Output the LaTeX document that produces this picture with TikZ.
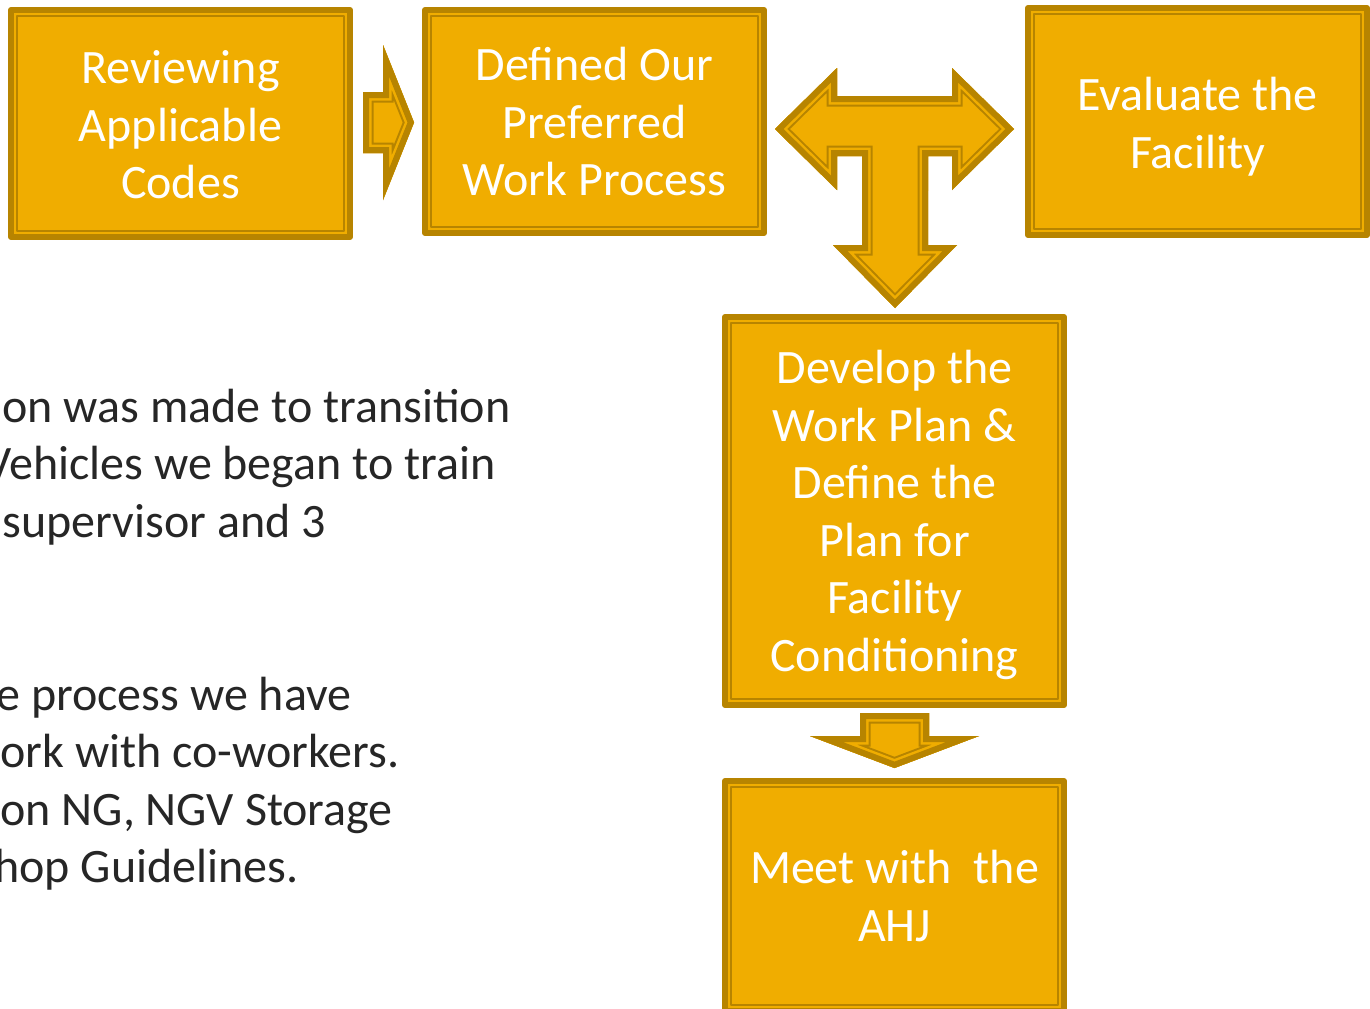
\documentclass[tikz,border=0pt]{standalone}
\usepackage{fontspec}
\setmainfont{Carlito}
\definecolor{gold}{RGB}{240,173,0}
\definecolor{darkgold}{RGB}{183,132,0}
\definecolor{bodytext}{RGB}{38,38,38}
\tikzset{
 goldbox/.style={draw=darkgold, fill=gold, line width=3pt, line join=round,
   inner sep=0pt, minimum width=169.5pt,
   path picture={\draw[darkgold, line width=1pt]
     ([shift={(2.8pt,-2.8pt)}]path picture bounding box.north west) rectangle
     ([shift={(-2.8pt,2.8pt)}]path picture bounding box.south east);}},
 boxtext/.style={text=white, align=center, inner sep=0pt, font=\fontsize{24}{28.75}\selectfont},
 bodyline/.style={anchor=base west, text=bodytext, inner sep=0pt, font=\fontsize{24}{28.75}\selectfont}
}
\newcommand\goldarrow[1]{%
 \begin{scope}
 \clip #1;
 \fill[gold] #1;
 \draw[darkgold, line width=10.5pt, line join=miter] #1;
 \draw[gold, line width=8.5pt, line join=miter] #1;
 \draw[darkgold, line width=6pt, line join=miter] #1;
 \end{scope}}
\begin{document}
\begin{tikzpicture}[x=0.5pt,y=-0.5pt]
\useasboundingbox (0,0) rectangle (1370,1008);
\clip (0,0) rectangle (1370,1008);
\fill[white] (0,0) rectangle (1370,1008);
% boxes
\node[goldbox, minimum height=113.5pt] (box1) at (180.5,123.5) {};
\node[goldbox, minimum height=111.5pt] (box2) at (594.5,121.5) {};
\node[goldbox, minimum height=113.5pt] (box3) at (1197.5,121.5) {};
\node[goldbox, minimum height=194pt] (box4) at (894.5,511) {};
\node[goldbox, minimum height=115pt] (box5) at (894.5,896) {};
\node[boxtext] (box1text) at ([yshift=-0.75pt]box1.center) {Reviewing\\Applicable\\Codes};
\node[boxtext] (box2text) at ([yshift=-0.25pt]box2.center) {Defined Our\\Preferred\\Work Process};
\node[boxtext] (box3text) at ([yshift=-2.5pt]box3.center) {Evaluate the\\Facility};
\node[boxtext] (box4text) at ([yshift=-2pt]box4.center) {Develop the\\Work Plan \&\\Define the\\Plan for\\Facility\\Conditioning};
\node[boxtext] (box5text) at (box5.center) {Meet with~ the\\AHJ};
% arrows
\goldarrow{(363,92) -- (383,92) -- (383,45) -- (414,122.5) -- (383,200) -- (383,153) -- (363,153) -- cycle}
\goldarrow{(775,129) -- (837,68) -- (837,96) -- (952,96) -- (952,68) -- (1014,129) -- (952,190) -- (952,156) -- (928,156) -- (928,245) -- (957,245) -- (895,308) -- (833,245) -- (862,245) -- (862,156) -- (837,156) -- (837,190) -- cycle}
\goldarrow{(860,713) -- (929,713) -- (929,736) -- (979,736) -- (894.5,768) -- (810,736) -- (860,736) -- cycle}
% body text
\node[bodyline] (t1) at (2,422) {on was made to transition};
\node[bodyline] (t2) at (-16,479) {Vehicles we began to train};
\node[bodyline] (t3) at (2,537) {supervisor and 3};
\node[bodyline] (t4) at (-4,710) {e process we have};
\node[bodyline] (t5) at (0,767) {ork with co-workers.};
\node[bodyline] (t6) at (0,825) {on NG, NGV Storage};
\node[bodyline] (t7) at (-6,882) {hop Guidelines.};
\end{tikzpicture}
\end{document}
